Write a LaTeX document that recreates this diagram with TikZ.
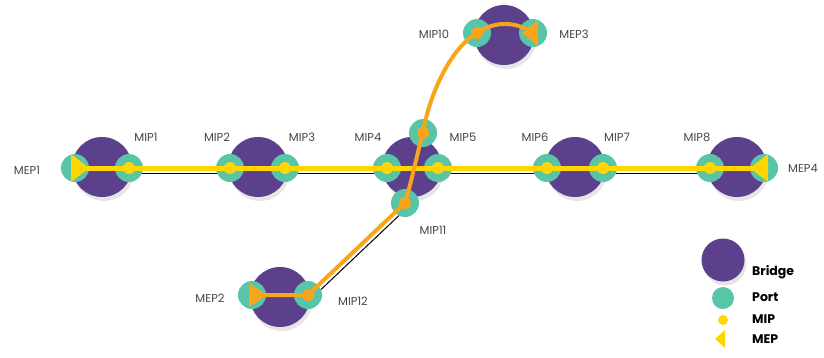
\documentclass[tikz,border=0pt]{standalone}
\usepackage{fontspec}
\setmainfont{Poppins}
\usetikzlibrary{shadows,backgrounds}

\definecolor{bridgepurple}{RGB}{92,64,140}
\definecolor{portteal}{RGB}{88,196,168}
\definecolor{mipyellow}{RGB}{255,214,0}
\definecolor{maorange}{RGB}{248,165,28}
\definecolor{labelgrey}{RGB}{70,70,70}

\tikzset{
  bridge/.style={circle,fill=bridgepurple,minimum size=60pt,inner sep=0pt,
    drop shadow={shadow xshift=2pt,shadow yshift=-4pt,opacity=0.2}},
  port/.style={circle,fill=portteal,minimum size=28pt,inner sep=0pt},
  mipdot/.style={circle,fill=#1,minimum size=12pt,inner sep=0pt},
  lbl/.style={text=labelgrey,inner sep=0pt,font=\fontsize{11.5}{13}\selectfont},
  legendtext/.style={anchor=west,inner sep=0pt,font=\bfseries\fontsize{12.5}{14}\selectfont},
  yellowline/.style={draw=mipyellow,line width=5pt},
  orangeline/.style={draw=maorange,line width=4pt},
  linkline/.style={draw=black,line width=1pt}
}

\begin{document}
\begin{tikzpicture}[x=1pt,y=-1pt]
\useasboundingbox (0,0) rectangle (824,357);

% bridges
\node[bridge] (b1) at (102,167) {};
\node[bridge] (b2) at (258,167) {};
\node[bridge] (b3) at (412,167) {};
\node[bridge] (b4) at (575,167) {};
\node[bridge] (b5) at (737,167) {};
\node[bridge] (b6) at (504,35) {};
\node[bridge] (b7) at (280,297) {};

% ports
\node[port] (p1) at (75,168) {};
\node[port] (p2) at (129,168) {};
\node[port] (p3) at (230,168) {};
\node[port] (p4) at (285,168) {};
\node[port] (p5) at (387,168) {};
\node[port] (p6) at (438,168) {};
\node[port] (pt) at (423,133) {};
\node[port] (p11) at (405,203) {};
\node[port] (p7) at (547,168) {};
\node[port] (p8) at (603,168) {};
\node[port] (p9) at (710,168) {};
\node[port] (p10) at (764,168) {};
\node[port] (q10) at (477,33) {};
\node[port] (q3) at (533,33) {};
\node[port] (r2) at (252,295) {};
\node[port] (r12) at (308,295) {};

% physical links
\begin{pgfonlayer}{background}
\draw[linkline] ([yshift=-5pt]p2.center) -- ([yshift=-5pt]p3.center);
\draw[linkline] ([yshift=-5pt]p4.center) -- ([yshift=-5pt]p5.center);
\draw[linkline] ([yshift=-5pt]p6.center) -- ([yshift=-5pt]p7.center);
\draw[linkline] ([yshift=-5pt]p8.center) -- ([yshift=-5pt]p9.center);
\draw[linkline] ([xshift=3.5pt,yshift=-3.5pt]p11.center) -- ([xshift=3.5pt,yshift=-3.5pt]r12.center);
\end{pgfonlayer}

% maintenance associations
\draw[yellowline] (p1.center) -- (p10.center);
\draw[orangeline] (r2.center) -- (r12.center) -- (p11.center)
  .. controls (412,180) and (418,150) .. (pt.center)
  .. controls (428,100) and (448,50) .. (q10.center)
  .. controls (492,22) and (515,20) .. (q3.center);

% MIPs
\node[mipdot=mipyellow] (d1) at (p2) {};
\node[mipdot=mipyellow] (d2) at (p3) {};
\node[mipdot=mipyellow] (d3) at (p4) {};
\node[mipdot=mipyellow] (d4) at (p5) {};
\node[mipdot=mipyellow] (d5) at (p6) {};
\node[mipdot=mipyellow] (d6) at (p7) {};
\node[mipdot=mipyellow] (d7) at (p8) {};
\node[mipdot=mipyellow] (d8) at (p9) {};
\node[mipdot=maorange] (d9) at (pt) {};
\node[mipdot=maorange] (d10) at (p11) {};
\node[mipdot=maorange] (d11) at (q10) {};
\node[mipdot=maorange] (d12) at (r12) {};

% MEPs
\fill[mipyellow] ([xshift=-4pt]p1.center) -- ++(0,-14) -- ++(18,14) -- ++(-18,14) -- cycle;
\fill[mipyellow] ([xshift=4pt]p10.center) -- ++(0,-14) -- ++(-18,14) -- ++(18,14) -- cycle;
\fill[maorange] ([xshift=5pt]q3.center) -- ++(0,-13) -- ++(-16,13) -- ++(16,13) -- cycle;
\fill[maorange] ([xshift=-3pt]r2.center) -- ++(0,-12) -- ++(18,12) -- ++(-18,12) -- cycle;

% labels
\node[lbl] (l1) at (27,170) {MEP1};
\node[lbl] (l2) at (146,137) {MIP1};
\node[lbl] (l3) at (217,137) {MIP2};
\node[lbl] (l4) at (302,137) {MIP3};
\node[lbl] (l5) at (368,137) {MIP4};
\node[lbl] (l6) at (463,137) {MIP5};
\node[lbl] (l7) at (535,137) {MIP6};
\node[lbl] (l8) at (617,137) {MIP7};
\node[lbl] (l9) at (697,137) {MIP8};
\node[lbl] (l10) at (803,168) {MEP4};
\node[lbl] (l11) at (434,34) {MIP10};
\node[lbl] (l12) at (574,34) {MEP3};
\node[lbl] (l13) at (433,230) {MIP11};
\node[lbl] (l14) at (210,298) {MEP2};
\node[lbl] (l15) at (353,301) {MIP12};

% legend
\node[bridge,minimum size=43pt] (lgbridge) at (723,260) {};
\node[port,minimum size=22pt] (lgport) at (723,298) {};
\node[mipdot=mipyellow,minimum size=10pt] (lgmip) at (723,320) {};
\coordinate (lgmep) at (723,339);
\fill[mipyellow] ([xshift=2pt]lgmep) -- ++(0,-9) -- ++(-10,9) -- ++(10,9) -- cycle;
\node[legendtext] (t1) at (752,272) {Bridge};
\node[legendtext] (t2) at (752,297) {Port};
\node[legendtext] (t3) at (752,319) {MIP};
\node[legendtext] (t4) at (752,339) {MEP};
\end{tikzpicture}
\end{document}
